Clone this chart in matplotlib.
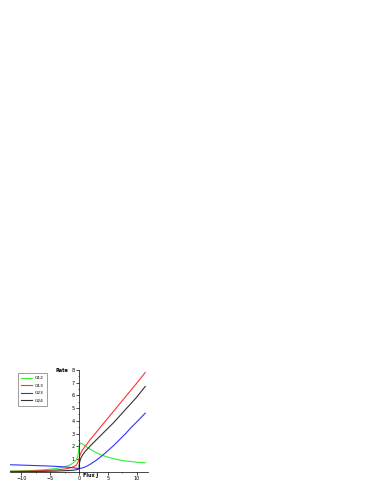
import numpy as np
import matplotlib.pyplot as plt

# flux values shared by all curves
flux = [-12, -10, -8, -6, -4, -3, -2, -1.5, -1, -0.5, -0.2, 0, 0.1, 0.3, 0.6,
        1, 1.5, 2, 3, 4, 5, 6, 7, 8, 9, 10, 11.5]

g12 = [0.05, 0.07, 0.1, 0.15, 0.25, 0.33, 0.45, 0.55, 0.7, 0.9, 1.2, 1.9, 2.15, 2.25,
       2.2, 2.05, 1.9, 1.75, 1.5, 1.3, 1.15, 1.03, 0.93, 0.85, 0.8, 0.75, 0.7]
g13 = [0.03, 0.04, 0.06, 0.09, 0.14, 0.18, 0.25, 0.3, 0.38, 0.5, 0.7, 1.0, 1.2, 1.45,
       1.7, 1.95, 2.25, 2.55, 3.1, 3.65, 4.2, 4.75, 5.3, 5.85, 6.4, 6.95, 7.8]
g23 = [0.55, 0.52, 0.49, 0.46, 0.42, 0.39, 0.36, 0.34, 0.31, 0.28, 0.26, 0.25, 0.25, 0.27,
       0.3, 0.36, 0.47, 0.6, 0.9, 1.25, 1.65, 2.05, 2.5, 2.95, 3.45, 3.9, 4.6]
g24 = [0.0, 0.01, 0.02, 0.03, 0.05, 0.07, 0.09, 0.1, 0.12, 0.15, 0.18, 0.25, 0.7, 1.05,
       1.3, 1.55, 1.8, 2.05, 2.5, 2.95, 3.4, 3.85, 4.35, 4.85, 5.35, 5.85, 6.7]

labels = ["G12", "G13", "G23", "G24"]
colors = ["#33ee33", "#ff3333", "#3333ff", "#333333"]

fig = plt.figure(figsize=(3.82, 4.94), dpi=100)
ax = fig.add_axes([0.0257, 0.0451, 0.362, 0.206])

for ys, lab, c in zip([g12, g13, g23, g24], labels, colors):
    ax.plot(flux, ys, color=c, lw=0.8, label=lab)

ax.set_xlim(-12, 12)
ax.set_ylim(0, 8)
ax.spines['left'].set_position(('data', 0))
ax.spines['right'].set_visible(False)
ax.spines['top'].set_visible(False)
for s in ax.spines.values():
    s.set_linewidth(0.5)

ax.set_xticks([-10, -5, 0, 5, 10])
ax.set_xticks([-7.5, -2.5, 2.5, 7.5], minor=True)
ax.set_yticks([1, 2, 3, 4, 5, 6, 7, 8])
ax.set_yticks(np.arange(0.5, 8, 1.0), minor=True)
ax.tick_params(labelsize=3.5, width=0.5, length=2, pad=1)
ax.tick_params(which='minor', width=0.4, length=1)

fig.text(0.144, 0.251, "Rate", fontsize=3.5, fontweight='bold', ha='left', va='center')
fig.text(0.217, 0.038, "Flux J", fontsize=3.5, fontweight='bold', ha='left', va='center')

leg = ax.legend(loc='upper left', bbox_to_anchor=(0.04, 0.99), fontsize=3.2,
                frameon=True, fancybox=False, edgecolor='#555555',
                handlelength=2.6, handletextpad=0.6, borderpad=0.7,
                labelspacing=0.75)
leg.get_frame().set_linewidth(0.5)

fig.savefig("out.png", dpi=100)
